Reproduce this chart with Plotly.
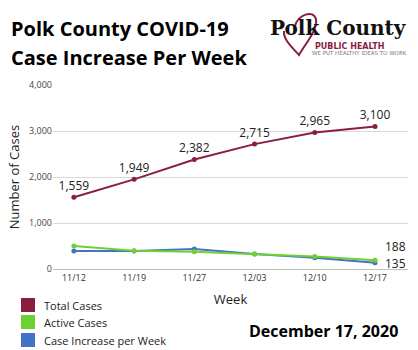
import plotly.graph_objects as go

weeks = ["11/12", "11/19", "11/27", "12/03", "12/10", "12/17"]
total_cases = [1559, 1949, 2382, 2715, 2965, 3100]
active_cases = [500, 397, 376, 326, 273, 188]
case_increase = [391, 390, 434, 326, 245, 135]

RED = "#8B1E3F"
GREEN = "#6CD133"
BLUE = "#4472C4"

W, H = 418, 350
L, R, T, B = 53, 10, 85, 81
PW, PH = W - L - R, H - T - B

def px(x):
    return (x - L) / PW

def py(y):
    return (H - B - y) / PH

fig = go.Figure()
fig.add_trace(go.Scatter(x=weeks, y=case_increase, mode="lines+markers",
                         line=dict(color=BLUE, width=2), marker=dict(size=5, color=BLUE),
                         name="Case Increase per Week", showlegend=False))
fig.add_trace(go.Scatter(x=weeks, y=active_cases, mode="lines+markers",
                         line=dict(color=GREEN, width=2), marker=dict(size=5, color=GREEN),
                         name="Active Cases", showlegend=False))
fig.add_trace(go.Scatter(x=weeks, y=total_cases, mode="lines+markers+text",
                         line=dict(color=RED, width=2), marker=dict(size=5, color=RED),
                         text=[f"{v:,}" for v in total_cases], textposition="top center",
                         textfont=dict(family="Open Sans", size=12, color="#222222"),
                         name="Total Cases", showlegend=False))

ann = []
ann.append(dict(x=weeks[-1], y=active_cases[-1], xref="x", yref="y", text=f"{active_cases[-1]:,}",
                showarrow=False, xanchor="left", yanchor="middle", xshift=8, yshift=14,
                font=dict(family="Open Sans", size=12, color="#222222")))
ann.append(dict(x=weeks[-1], y=case_increase[-1], xref="x", yref="y", text=f"{case_increase[-1]:,}",
                showarrow=False, xanchor="left", yanchor="middle", xshift=8, yshift=-1,
                font=dict(family="Open Sans", size=12, color="#222222")))

# Title
ann.append(dict(x=px(9), y=py(28), xref="paper", yref="paper", text="<b>Polk County COVID-19</b>",
                showarrow=False, xanchor="left", yanchor="middle",
                font=dict(family="Open Sans", size=20, color="#000000")))
ann.append(dict(x=px(9), y=py(58), xref="paper", yref="paper", text="<b>Case Increase Per Week</b>",
                showarrow=False, xanchor="left", yanchor="middle",
                font=dict(family="Open Sans", size=20, color="#000000")))

# Logo texts
ann.append(dict(x=px(338), y=py(28), xref="paper", yref="paper", text="<b>Polk County</b>",
                showarrow=False, xanchor="center", yanchor="middle",
                font=dict(family="DejaVu Serif", size=20, color="#111111")))
ann.append(dict(x=px(349.5), y=py(46), xref="paper", yref="paper", text="<b>PUBLIC HEALTH</b>",
                showarrow=False, xanchor="center", yanchor="middle",
                font=dict(family="DejaVu Sans", size=8, color=RED)))
ann.append(dict(x=px(359), y=py(53), xref="paper", yref="paper", text="WE PUT HEALTHY IDEAS TO WORK",
                showarrow=False, xanchor="center", yanchor="middle",
                font=dict(family="DejaVu Sans", size=5.5, color="#777777")))

# Legend
legend_items = [("Total Cases", RED, 305), ("Active Cases", GREEN, 322), ("Case Increase per Week", BLUE, 340)]
shapes = []
for name, col, yc in legend_items:
    shapes.append(dict(type="rect", xref="paper", yref="paper",
                       x0=px(21), x1=px(35), y0=py(yc - 7), y1=py(yc + 7),
                       fillcolor=col, line=dict(width=0)))
    ann.append(dict(x=px(42), y=py(yc), xref="paper", yref="paper", text=name,
                    showarrow=False, xanchor="left", yanchor="middle",
                    font=dict(family="Open Sans", size=11, color="#222222")))

ann.append(dict(x=px(400), y=py(331), xref="paper", yref="paper", text="<b>December 17, 2020</b>",
                showarrow=False, xanchor="right", yanchor="middle",
                font=dict(family="Open Sans", size=16, color="#000000")))

# Heart outline around the logo's "o"
def P(x, y):
    return f"{px(x):.4f},{py(y):.4f}"

heart = (f"M {P(295,26)} C {P(298,15)} {P(313,9)} {P(316,19)} "
         f"C {P(318,30)} {P(305,44)} {P(299,55)} "
         f"C {P(293,48)} {P(283,40)} {P(284,31)}")
shapes.append(dict(type="path", xref="paper", yref="paper", path=heart,
                   line=dict(color=RED, width=2)))

fig.update_layout(
    width=W, height=H,
    margin=dict(l=L, r=R, t=T, b=B),
    paper_bgcolor="white", plot_bgcolor="white",
    annotations=ann, shapes=shapes,
    xaxis=dict(type="category", showgrid=False, showline=True, linecolor="#bfbfbf", linewidth=1,
               ticks="", tickfont=dict(family="Open Sans", size=9, color="#333333"),
               title=dict(text="Week", font=dict(family="Open Sans", size=13, color="#222222"), standoff=12)),
    yaxis=dict(range=[0, 4000], tickvals=[0, 1000, 2000, 3000, 4000], tickformat=",",
               showgrid=True, gridcolor="#d9d9d9", gridwidth=1, zeroline=False,
               tickfont=dict(family="Open Sans", size=9, color="#444444"),
               title=dict(text="Number of Cases", font=dict(family="Open Sans", size=13, color="#222222"), standoff=6)),
)

fig.write_html("out.html")
